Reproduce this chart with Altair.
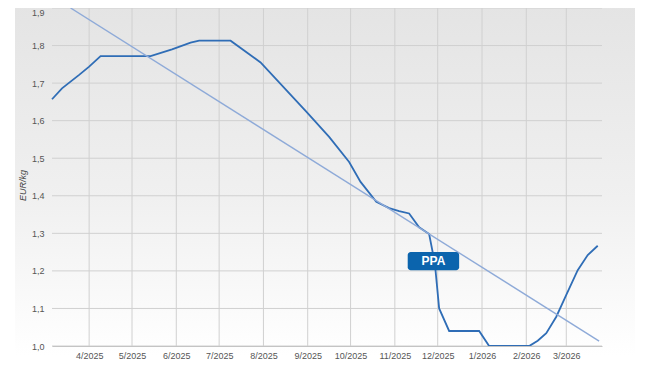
import altair as alt
import pandas as pd

# Price series (EUR/kg)
dates = [
    "2025-03-06", "2025-03-13", "2025-03-25", "2025-04-01", "2025-04-09",
    "2025-05-14", "2025-05-29", "2025-06-11", "2025-06-17", "2025-07-09",
    "2025-07-30", "2025-08-31", "2025-09-16", "2025-09-30", "2025-10-08",
    "2025-10-19", "2025-10-28", "2025-11-04", "2025-11-11", "2025-11-18",
    "2025-11-25", "2025-11-29", "2025-12-02", "2025-12-09", "2025-12-30",
    "2026-01-06", "2026-02-03", "2026-02-09", "2026-02-15", "2026-02-22",
    "2026-03-01", "2026-03-09", "2026-03-16", "2026-03-23",
]
prices = [
    1.657, 1.686, 1.722, 1.744, 1.772,
    1.772, 1.790, 1.808, 1.813, 1.813,
    1.755, 1.624, 1.557, 1.490, 1.437,
    1.384, 1.367, 1.359, 1.353, 1.316,
    1.298, 1.220, 1.100, 1.040, 1.040,
    1.000, 1.000, 1.014, 1.034, 1.078,
    1.136, 1.202, 1.242, 1.267,
]

# Trend line end points
trend_dates = ["2025-03-19", "2026-03-24"]
trend_values = [1.900, 1.013]

# Annotation
label_text = ["PPA"]
label_date = ["2025-11-28"]
label_value = [1.226]
label_box_dates = ["2025-11-10", "2025-12-16"]
label_box_values = [1.202, 1.250]

y_ticks = [1.0, 1.1, 1.2, 1.3, 1.4, 1.5, 1.6, 1.7, 1.8, 1.9]
month_ticks = ["2025-%02d-01" % m for m in range(4, 13)] + ["2026-%02d-01" % m for m in range(1, 4)]

df = pd.DataFrame({"date": [d + "T00:00:00" for d in dates], "price": prices})
trend_df = pd.DataFrame({"date": [d + "T00:00:00" for d in trend_dates], "price": trend_values})
label_df = pd.DataFrame({
    "date": [label_date[0] + "T00:00:00"],
    "price": label_value,
    "text": label_text,
    "d1": [label_box_dates[0] + "T00:00:00"],
    "d2": [label_box_dates[1] + "T00:00:00"],
    "v1": [label_box_values[0]],
    "v2": [label_box_values[1]],
})
ygrid_df = pd.DataFrame({"v": y_ticks})
xgrid_df = pd.DataFrame({"date": [d + "T00:00:00" for d in month_ticks]})

W, H = 550, 338
GRID = "#d0d0d0"

x_scale = alt.Scale(domain=[alt.DateTime(year=2025, month=3, date=6),
                            alt.DateTime(year=2026, month=3, date=26)])
y_scale = alt.Scale(domain=[1.0, 1.9], nice=False, zero=False)

x_axis = alt.Axis(
    values=[alt.DateTime(year=int(d[:4]), month=int(d[5:7]), date=1) for d in month_ticks],
    format="%-m/%Y", title=None, grid=False, zindex=1,
    ticks=False, domain=True, domainColor="#c4c4c4",
    labelFont="Liberation Sans", labelFontSize=9, labelColor="#555555",
    labelPadding=5, labelOverlap=False,
)
y_axis = alt.Axis(
    values=y_ticks, title="EUR/kg", grid=False, zindex=1,
    ticks=False, domain=False, labelOverlap=False, labelFlush=False,
    labelBaseline={"condition": {"test": "datum.value > 1.85", "value": "top"}, "value": "middle"},
    labelExpr="replace(format(datum.value, '.1f'), '.', ',')",
    labelFont="Liberation Sans", labelFontSize=9, labelColor="#555555",
    labelPadding=8, titleFont="Liberation Sans", titleFontSize=9,
    titleFontWeight="normal", titleFontStyle="italic", titleColor="#444444",
    titlePadding=4, titleY=177,
)

bg = alt.Chart(pd.DataFrame({"a": [0]})).mark_rect(
    color=alt.Gradient(
        gradient="linear", x1=0, y1=0, x2=0, y2=1,
        stops=[alt.GradientStop(offset=0, color="#e4e4e4"),
               alt.GradientStop(offset=0.55, color="#f0f0f0"),
               alt.GradientStop(offset=1, color="#ffffff")],
    )
).encode(x=alt.value(-37), x2=alt.value(W + 33), y=alt.value(-3), y2=alt.value(H + 10))

ygrid = alt.Chart(ygrid_df).mark_rule(color=GRID, strokeWidth=1).encode(
    y=alt.Y("v:Q", scale=y_scale, axis=y_axis)
)
xgrid = alt.Chart(xgrid_df).mark_rule(color=GRID, strokeWidth=1).encode(
    x=alt.X("date:T", scale=x_scale, axis=x_axis)
)

line = alt.Chart(df).mark_line(color="#2f6db6", strokeWidth=1.8).encode(
    x=alt.X("date:T", scale=x_scale, axis=x_axis),
    y=alt.Y("price:Q", scale=y_scale, axis=y_axis),
)

trend = alt.Chart(trend_df).mark_line(color="#8eaad8", strokeWidth=1.4).encode(
    x=alt.X("date:T", scale=x_scale, axis=x_axis),
    y=alt.Y("price:Q", scale=y_scale, axis=y_axis),
)

box = alt.Chart(label_df).mark_rect(color="#0b64ad", cornerRadius=3).encode(
    x=alt.X("d1:T", scale=x_scale, axis=x_axis), x2="d2:T",
    y=alt.Y("v1:Q", scale=y_scale, axis=y_axis), y2="v2:Q",
)
txt = alt.Chart(label_df).mark_text(
    color="white", font="Liberation Sans", fontSize=12, fontWeight="bold"
).encode(
    x=alt.X("date:T", scale=x_scale, axis=x_axis),
    y=alt.Y("price:Q", scale=y_scale, axis=y_axis),
    text="text:N",
)

chart = alt.layer(bg, ygrid, xgrid, line, trend, box, txt).properties(
    width=W, height=H, autosize="none",
    padding={"left": 44, "top": 0, "right": 40, "bottom": 20},
).configure_view(stroke=None).configure(background="white")

chart.save("out.html", embed_options={"renderer": "svg", "actions": False})
